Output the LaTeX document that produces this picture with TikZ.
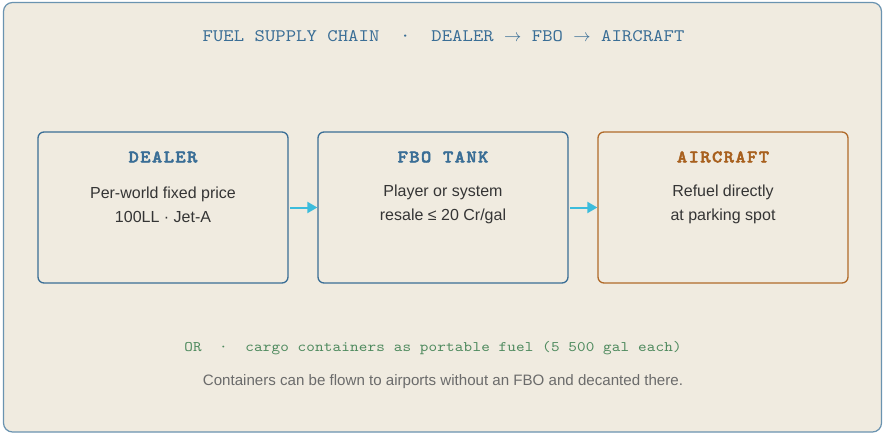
\documentclass[tikz,border=0pt]{standalone}
\usepackage{fontspec}
\setmainfont{Liberation Sans}
\newfontfamily\titlemono[FakeStretch=1.12, LetterSpace=0.35]{lmmono10-regular.otf}
\newfontfamily\altmono[FakeStretch=1.12, LetterSpace=1.2]{lmmono10-regular.otf}
\newfontfamily\stagemono[FakeStretch=1.12, LetterSpace=8, FakeBold=2.5]{lmmonolt10-bold.otf}
\usetikzlibrary{arrows.meta}
\definecolor{bgc}{HTML}{F0EBE0}
\definecolor{frame}{HTML}{6A93B0}
\definecolor{blu}{HTML}{3A6E96}
\definecolor{org}{HTML}{B06A2A}
\definecolor{orgt}{HTML}{A8601E}
\definecolor{body}{HTML}{353535}
\definecolor{cyanarr}{HTML}{3CBCDC}
\definecolor{grn}{HTML}{4E8A5E}
\definecolor{gry}{HTML}{6B6B6B}
\tikzset{
  stagebox/.style={draw=#1, line width=1.3pt, rounded corners=6pt, fill=bgc,
    minimum width=250pt, minimum height=151pt, inner sep=0pt},
  stagetitle/.style={text=#1, font=\stagemono\fontsize{17.5}{20}\selectfont, inner sep=0pt},
  stagebody/.style={text=body, font=\fontsize{16}{24}\selectfont, align=center, inner sep=0pt},
  flow/.style={draw=cyanarr, line width=2pt, -{Triangle[length=10pt,width=11pt]}}
}
\begin{document}
\begin{tikzpicture}[x=1pt,y=-1pt]
\useasboundingbox (0,0) rectangle (883,434);
\fill[white] (0,0) rectangle (883,434);
\draw[frame, line width=1.2pt, fill=bgc, rounded corners=9pt] (3.5,2.5) rectangle (881.5,432);
\node[text=blu, font=\titlemono\fontsize{17.6}{20}\selectfont, inner sep=0pt] (title) at (443.5,36) {FUEL SUPPLY CHAIN\ \ ·\ \ DEALER $\rightarrow$ FBO $\rightarrow$ AIRCRAFT};

\node[stagebox=blu] (dealer) at (163,207.5) {};
\node[stagebox=blu] (fbo) at (443,207.5) {};
\node[stagebox=org] (aircraft) at (723,207.5) {};

\node[stagetitle=blu] (dealert) at (163,157) {DEALER};
\node[stagetitle=blu] (fbot) at (443,157) {FBO TANK};
\node[stagetitle=orgt] (aircraftt) at (723,157) {AIRCRAFT};

\node[stagebody] (dealerb) at (163,204.5) {Per-world fixed price\\100LL · Jet-A};
\node[stagebody] (fbob) at (443,204.5) {Player or system\\resale ≤ 20 Cr/gal};
\node[stagebody] (aircraftb) at (723,204.5) {Refuel directly\\at parking spot};

\draw[flow, shorten <=1.5pt] (dealer.east) -- (fbo.west);
\draw[flow, shorten <=1.5pt] (fbo.east) -- (aircraft.west);

\node[text=grn, font=\altmono\fontsize{14.6}{18}\selectfont, inner sep=0pt] (alt) at (433,348) {OR\ \ ·\ \ cargo containers as portable fuel (5 500 gal each)};
\node[text=gry, font=\fontsize{15.1}{18}\selectfont, inner sep=0pt] (note) at (443,382) {Containers can be flown to airports without an FBO and decanted there.};
\end{tikzpicture}
\end{document}
